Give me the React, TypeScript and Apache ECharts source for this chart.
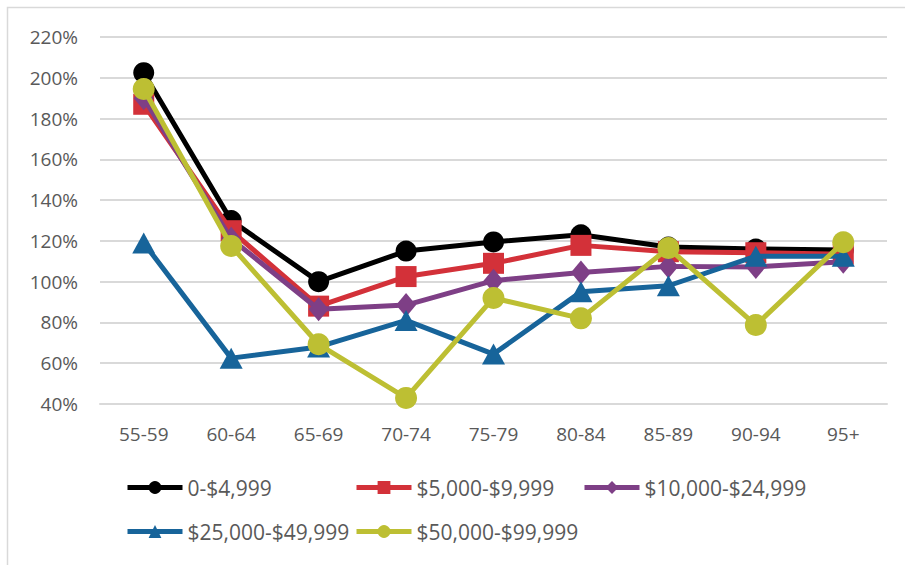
import React, { useEffect, useRef } from "react";
import * as echarts from "echarts";

const categories = ["55-59", "60-64", "65-69", "70-74", "75-79", "80-84", "85-89", "90-94", "95+"];
const seriesNames = ["0-$4,999", "$5,000-$9,999", "$10,000-$24,999", "$25,000-$49,999", "$50,000-$99,999"];
const v0to5k = [202.5, 130, 100, 115, 119.5, 123, 117, 116, 115.5];
const v5to10k = [187, 125, 88, 102.5, 109, 117.8, 114.7, 114.2, 113.5];
const v10to25k = [190, 121, 86.5, 88.5, 100.5, 104.5, 107.5, 107.2, 109.8];
const v25to50k = [119, 62.5, 68, 81, 64.5, 95, 98, 112.5, 112.5];
const v50to100k = [194.5, 117.5, 69.3, 43, 92, 82, 116.5, 78.7, 119.3];
const yTicks = { min: 40, max: 220, interval: 20 };

const colors = ["#000000", "#d33139", "#7e3f86", "#17649a", "#bdbf33"];
const symbols = ["circle", "rect", "diamond", "triangle", "circle"];
const symbolSizes: any[] = [21, 21, [20, 24], [23, 21], 22];
const legendPos = [
  { left: 125, top: 477 },
  { left: 354, top: 477 },
  { left: 582, top: 477 },
  { left: 125, top: 521 },
  { left: 354, top: 521 },
];

const FONT = "'Open Sans', 'Noto Sans', sans-serif";

export default function App() {
  const ref = useRef<HTMLDivElement>(null);
  useEffect(() => {
    if (!ref.current) return;
    const chart = echarts.init(ref.current, undefined, { renderer: "svg" });
    const values = [v0to5k, v5to10k, v10to25k, v25to50k, v50to100k];
    chart.setOption({
      animation: false,
      backgroundColor: "#ffffff",
      textStyle: { fontFamily: FONT },
      graphic: [
        {
          type: "rect",
          shape: { x: 7.5, y: 7.5, width: 1000, height: 1000 },
          style: { fill: "none", stroke: "#d9d9d9", lineWidth: 1.5 },
          silent: true,
        },
      ],
      grid: { left: 100, right: 18, top: 37, bottom: 161, containLabel: false },
      xAxis: {
        type: "category",
        data: categories,
        boundaryGap: true,
        axisLine: { show: true, lineStyle: { color: "#d9d9d9", width: 2 } },
        axisTick: { show: false },
        axisLabel: { color: "#595959", fontSize: 19, fontFamily: FONT, margin: 20 },
      },
      yAxis: {
        type: "value",
        min: yTicks.min,
        max: yTicks.max,
        interval: yTicks.interval,
        axisLine: { show: false },
        axisTick: { show: false },
        splitLine: { lineStyle: { color: "#d9d9d9", width: 2 } },
        axisLabel: {
          color: "#595959",
          fontSize: 19,
          fontFamily: FONT,
          margin: 22,
          formatter: (v: number) => `${v}%`,
        },
      },
      legend: seriesNames.map((n, i) => ({
        data: [n],
        left: legendPos[i].left,
        top: legendPos[i].top,
        itemWidth: 55,
        itemHeight: 16,
        itemGap: 4,
        padding: 0,
        lineStyle: { width: 5 },
        textStyle: { color: "#595959", fontSize: 21, fontFamily: FONT },
      })),
      series: seriesNames.map((n, i) => ({
        name: n,
        type: "line",
        data: values[i],
        symbol: symbols[i],
        symbolSize: symbolSizes[i],
        lineStyle: { color: colors[i], width: 5 },
        itemStyle: { color: colors[i] },
        z: 2 + i,
      })),
    });
    return () => chart.dispose();
  }, []);
  return (
    <div
      ref={ref}
      style={{ position: "fixed", left: 0, top: 0, width: 905, height: 565, background: "#fff" }}
    />
  );
}
